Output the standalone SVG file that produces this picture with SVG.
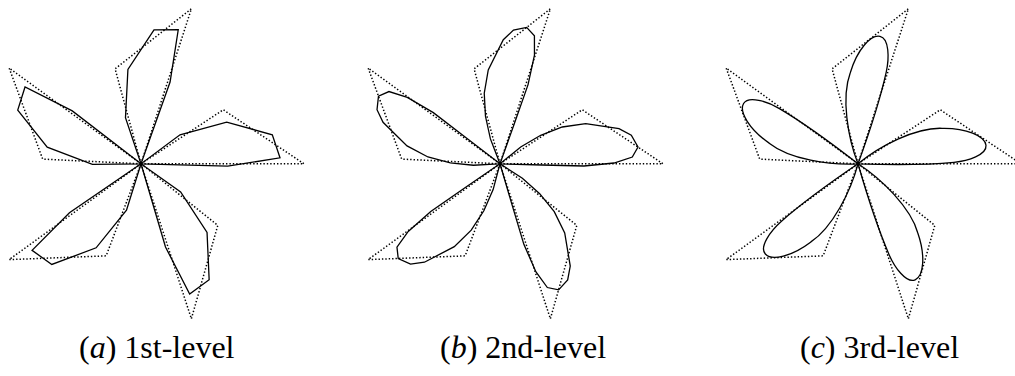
<svg xmlns="http://www.w3.org/2000/svg" xmlns:xlink="http://www.w3.org/1999/xlink" width="1015" height="376" viewBox="0 0 1015 376">
<style>
.ctrl{fill:none;stroke:#000;stroke-width:1.5;stroke-dasharray:1.4 2}
.crv{fill:none;stroke:#000;stroke-width:1.3;stroke-linejoin:miter}
.lbl{font-family:'Liberation Serif','Times New Roman',serif;font-size:32px;fill:#000}
</style>
<defs>
<path id="ctrlPetal" class="ctrl" d="M0,0 L163,0 L82.3,-54 Z"/>
<path id="petalA" class="crv" d="M0,0 L86.7,2.4 L139,-6 L131.3,-29 L85.7,-41.6 L39,-29 Z"/>
<path id="petalB" class="crv" d="M0,0 L42,1.2 L84,2.2 L114,-0.8 L132.3,-6.8 L138,-16.8 L131.3,-28.5 L119,-35.2 L85.7,-40.2 L62.3,-36.8 L40.7,-28.5 L20.7,-16.8 Z"/>
<path id="petalC" class="crv" d="M0,0 C30,1 70,1 96,-1.5 C110,-2.85 129,-9 128,-18.5 C127,-28 108,-36 84,-35.5 C58,-36.5 22,-18 0,0 Z"/>
</defs>
<g id="panel-a" transform="translate(141,163.8)">
<g id="control-a">
<use xlink:href="#ctrlPetal"/>
<use xlink:href="#ctrlPetal" transform="rotate(-72)"/>
<use xlink:href="#ctrlPetal" transform="rotate(-144)"/>
<use xlink:href="#ctrlPetal" transform="rotate(-216)"/>
<use xlink:href="#ctrlPetal" transform="rotate(-288)"/>
</g>
<g id="curve-a">
<use xlink:href="#petalA"/>
<use xlink:href="#petalA" transform="rotate(-72)"/>
<use xlink:href="#petalA" transform="rotate(-144)"/>
<use xlink:href="#petalA" transform="rotate(-216)"/>
<use xlink:href="#petalA" transform="rotate(-288)"/>
</g>
</g>
<g id="panel-b" transform="translate(500,163.8)">
<g id="control-b">
<use xlink:href="#ctrlPetal"/>
<use xlink:href="#ctrlPetal" transform="rotate(-72)"/>
<use xlink:href="#ctrlPetal" transform="rotate(-144)"/>
<use xlink:href="#ctrlPetal" transform="rotate(-216)"/>
<use xlink:href="#ctrlPetal" transform="rotate(-288)"/>
</g>
<g id="curve-b">
<use xlink:href="#petalB"/>
<use xlink:href="#petalB" transform="rotate(-72)"/>
<use xlink:href="#petalB" transform="rotate(-144)"/>
<use xlink:href="#petalB" transform="rotate(-216)"/>
<use xlink:href="#petalB" transform="rotate(-288)"/>
</g>
</g>
<g id="panel-c" transform="translate(858,163.8)">
<g id="control-c">
<use xlink:href="#ctrlPetal"/>
<use xlink:href="#ctrlPetal" transform="rotate(-72)"/>
<use xlink:href="#ctrlPetal" transform="rotate(-144)"/>
<use xlink:href="#ctrlPetal" transform="rotate(-216)"/>
<use xlink:href="#ctrlPetal" transform="rotate(-288)"/>
</g>
<g id="curve-c">
<use xlink:href="#petalC"/>
<use xlink:href="#petalC" transform="rotate(-72)"/>
<use xlink:href="#petalC" transform="rotate(-144)"/>
<use xlink:href="#petalC" transform="rotate(-216)"/>
<use xlink:href="#petalC" transform="rotate(-288)"/>
</g>
</g>
<g id="labels">
<text class="lbl" x="79" y="358"><tspan>(</tspan><tspan font-style="italic">a</tspan><tspan>) 1st-level</tspan></text>
<text class="lbl" x="440" y="358"><tspan>(</tspan><tspan font-style="italic">b</tspan><tspan>) 2nd-level</tspan></text>
<text class="lbl" x="800" y="358"><tspan>(</tspan><tspan font-style="italic">c</tspan><tspan>) 3rd-level</tspan></text>
</g>
</svg>
